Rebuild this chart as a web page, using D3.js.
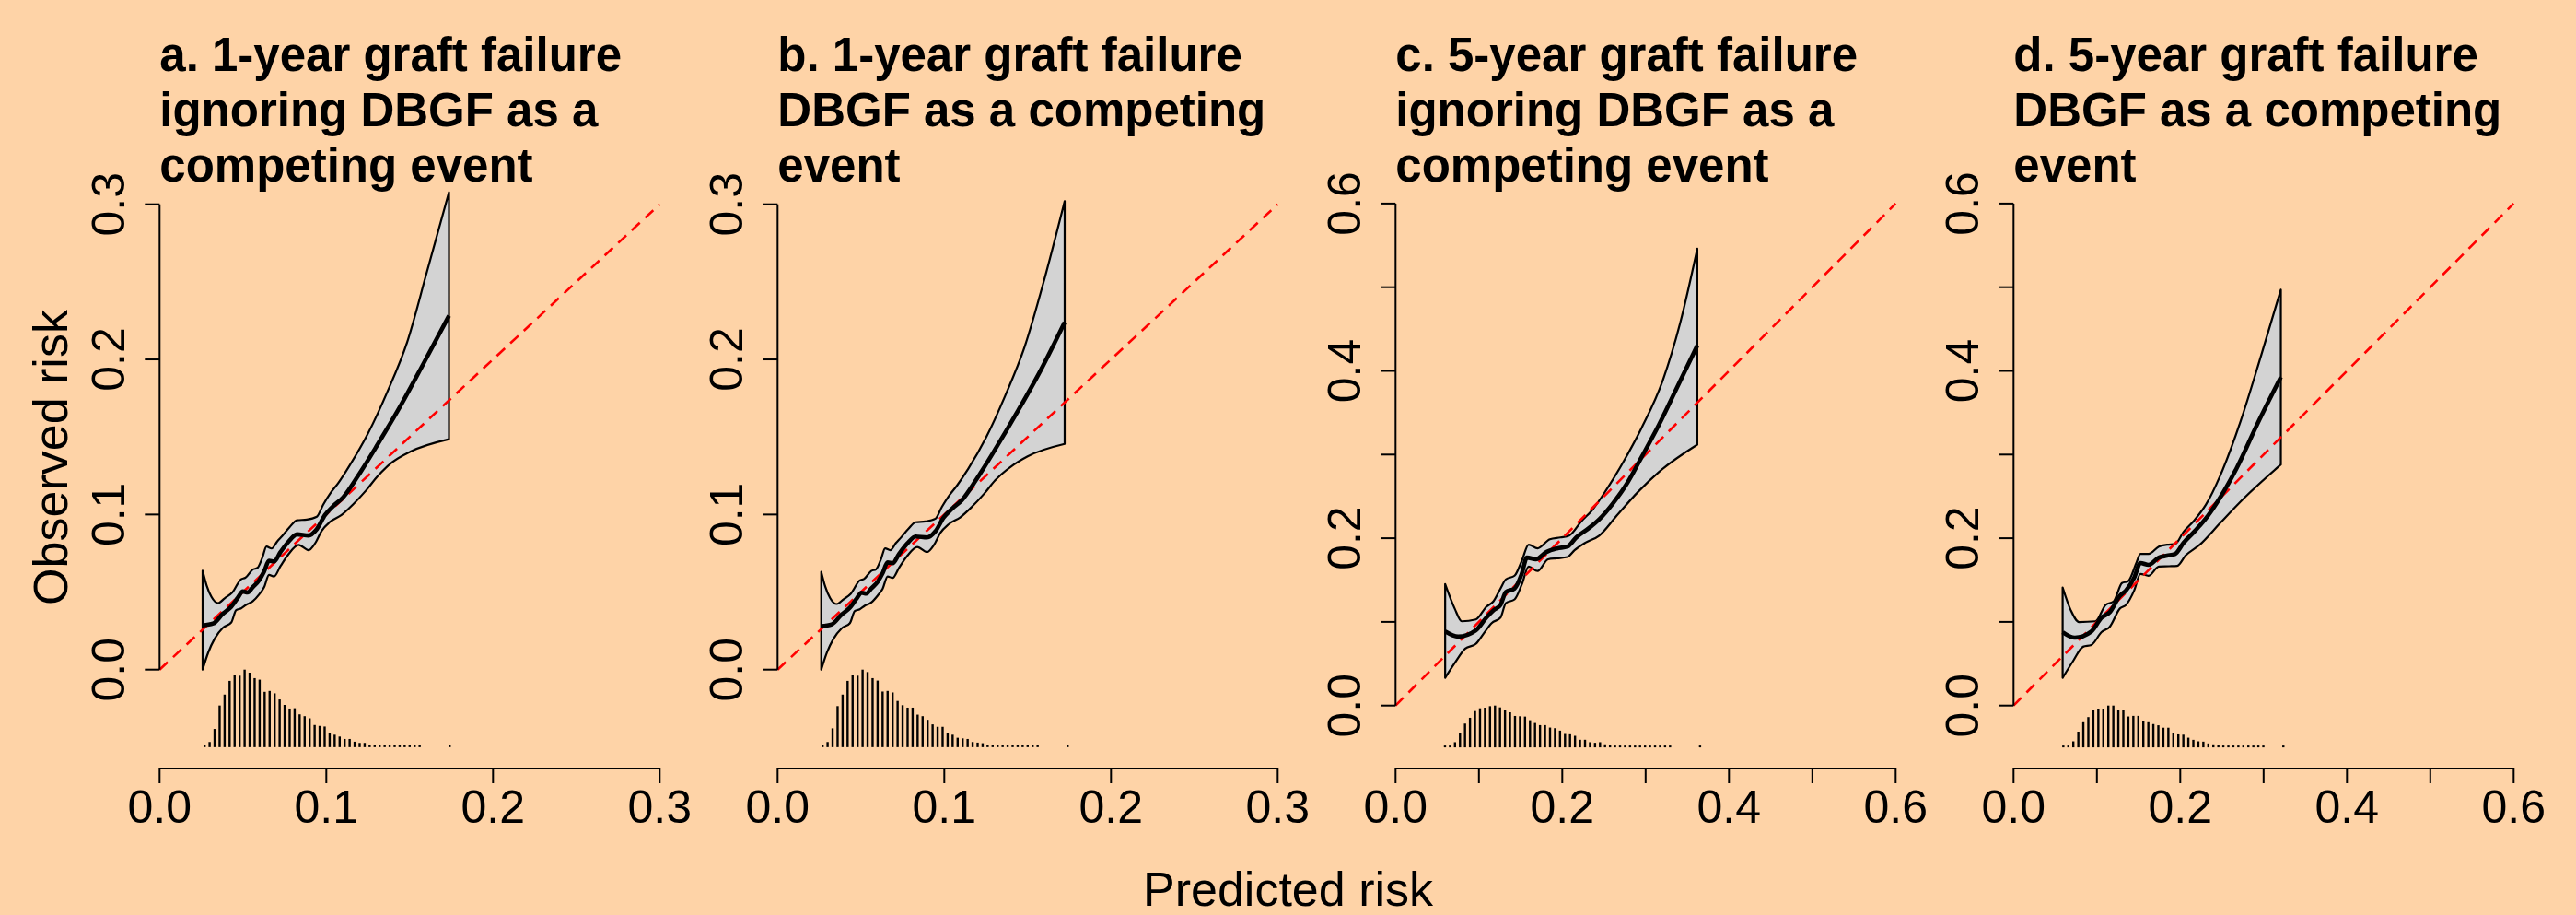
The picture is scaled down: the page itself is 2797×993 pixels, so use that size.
<!DOCTYPE html>
<html>
<head>
<meta charset="utf-8">
<script src="https://cdn.jsdelivr.net/npm/d3@7"></script>
<style>
  html, body { margin: 0; padding: 0; background: #FED3A7; }
  svg text { font-family: "Liberation Sans", Arial, Helvetica, sans-serif; fill: #000; }
</style>
</head>
<body>
<svg id="chart" width="2797" height="993"></svg>
<script>
// ---- titles ----
var titleA = ['a. 1-year graft failure', 'ignoring DBGF as a', 'competing event'];
var titleB = ['b. 1-year graft failure', 'DBGF as a competing', 'event'];
var titleC = ['c. 5-year graft failure', 'ignoring DBGF as a', 'competing event'];
var titleD = ['d. 5-year graft failure', 'DBGF as a competing', 'event'];

// ---- axis ticks ----
var ticks1y = [0, 0.1, 0.2, 0.3];
var labels1y = [0, 0.1, 0.2, 0.3];
var ticks5y = [0, 0.1, 0.2, 0.3, 0.4, 0.5, 0.6];
var labels5y = [0, 0.2, 0.4, 0.6];

// ---- panel a: 1-year, ignoring DBGF ----
var upperAx = [0.0258, 0.0282, 0.0311, 0.0351, 0.0390, 0.0436, 0.0489, 0.0514, 0.0558, 0.0587, 0.0617, 0.0641, 0.0672, 0.0706, 0.0735, 0.0779, 0.0824, 0.0883, 0.0943, 0.0982, 0.1022, 0.1071, 0.1140, 0.1249, 0.1367, 0.1485, 0.1604, 0.1736];
var upperAy = [0.0638, 0.0543, 0.0469, 0.0429, 0.0460, 0.0497, 0.0583, 0.0592, 0.0645, 0.0656, 0.0724, 0.0793, 0.0781, 0.0827, 0.0861, 0.0917, 0.0963, 0.0967, 0.0986, 0.1065, 0.1134, 0.1202, 0.1316, 0.1520, 0.1793, 0.2111, 0.2566, 0.3078];
var estAx = [0.0258, 0.0321, 0.0380, 0.0430, 0.0469, 0.0499, 0.0528, 0.0558, 0.0597, 0.0627, 0.0656, 0.0686, 0.0725, 0.0775, 0.0824, 0.0893, 0.0943, 0.0992, 0.1041, 0.1101, 0.1189, 0.1308, 0.1446, 0.1584, 0.1736];
var estAy = [0.0285, 0.0297, 0.0361, 0.0406, 0.0463, 0.0504, 0.0497, 0.0531, 0.0576, 0.0633, 0.0702, 0.0697, 0.0758, 0.0827, 0.0872, 0.0865, 0.0906, 0.0997, 0.1054, 0.1111, 0.1247, 0.1452, 0.1702, 0.1975, 0.2282];
var lowerAx = [0.0258, 0.0292, 0.0331, 0.0380, 0.0430, 0.0459, 0.0489, 0.0518, 0.0558, 0.0597, 0.0627, 0.0656, 0.0686, 0.0725, 0.0775, 0.0834, 0.0893, 0.0933, 0.0972, 0.1022, 0.1091, 0.1160, 0.1239, 0.1308, 0.1397, 0.1505, 0.1736];
var lowerAy = [0.0000, 0.0111, 0.0201, 0.0270, 0.0304, 0.0383, 0.0395, 0.0417, 0.0440, 0.0485, 0.0531, 0.0611, 0.0600, 0.0667, 0.0747, 0.0804, 0.0770, 0.0815, 0.0895, 0.0952, 0.0997, 0.1065, 0.1156, 0.1247, 0.1338, 0.1406, 0.1486];
var histA = [3, 17, 60, 137, 173, 218, 237, 235, 255, 245, 227, 222, 182, 185, 177, 157, 139, 127, 128, 108, 102, 95, 73, 70, 68, 47, 41, 35, 27, 27, 18, 14, 14, 7, 7, 7, 6, 6, 6, 5, 5, 5, 5, 5, 0, 0, 0, 0, 0, 5];

// ---- panel b: 1-year, DBGF competing ----
var upperBx = [0.0262, 0.0286, 0.0315, 0.0355, 0.0394, 0.0440, 0.0493, 0.0518, 0.0562, 0.0591, 0.0621, 0.0645, 0.0676, 0.0710, 0.0739, 0.0783, 0.0828, 0.0887, 0.0947, 0.0986, 0.1026, 0.1075, 0.1144, 0.1250, 0.1365, 0.1480, 0.1600, 0.1722];
var upperBy = [0.0630, 0.0535, 0.0462, 0.0423, 0.0452, 0.0490, 0.0575, 0.0584, 0.0636, 0.0647, 0.0714, 0.0782, 0.0770, 0.0816, 0.0850, 0.0905, 0.0950, 0.0955, 0.0973, 0.1050, 0.1118, 0.1185, 0.1295, 0.1495, 0.1765, 0.2075, 0.2515, 0.3020];
var estBx = [0.0262, 0.0325, 0.0384, 0.0434, 0.0473, 0.0503, 0.0532, 0.0562, 0.0601, 0.0631, 0.0660, 0.0690, 0.0729, 0.0779, 0.0828, 0.0897, 0.0947, 0.0996, 0.1045, 0.1105, 0.1190, 0.1305, 0.1440, 0.1578, 0.1722];
var estBy = [0.0280, 0.0292, 0.0355, 0.0400, 0.0456, 0.0496, 0.0490, 0.0523, 0.0567, 0.0623, 0.0691, 0.0686, 0.0746, 0.0814, 0.0858, 0.0852, 0.0892, 0.0980, 0.1036, 0.1092, 0.1222, 0.1420, 0.1665, 0.1930, 0.2240];
var lowerBx = [0.0262, 0.0296, 0.0335, 0.0384, 0.0434, 0.0463, 0.0493, 0.0522, 0.0562, 0.0601, 0.0631, 0.0660, 0.0690, 0.0729, 0.0779, 0.0838, 0.0897, 0.0937, 0.0976, 0.1026, 0.1095, 0.1164, 0.1240, 0.1305, 0.1395, 0.1500, 0.1722];
var lowerBy = [0.0000, 0.0110, 0.0198, 0.0266, 0.0300, 0.0377, 0.0389, 0.0411, 0.0433, 0.0478, 0.0523, 0.0601, 0.0591, 0.0657, 0.0735, 0.0791, 0.0758, 0.0802, 0.0881, 0.0937, 0.0981, 0.1048, 0.1135, 0.1220, 0.1305, 0.1375, 0.1455];
var histB = [2, 17, 62, 135, 173, 218, 237, 235, 255, 247, 227, 219, 183, 185, 180, 152, 138, 130, 130, 107, 102, 90, 75, 67, 67, 45, 41, 31, 29, 27, 17, 15, 13, 7, 7, 7, 6, 5, 5, 5, 5, 5, 5, 5, 0, 0, 0, 0, 0, 5];

// ---- panel c: 5-year, ignoring DBGF ----
var upperCx = [0.0595, 0.0709, 0.0794, 0.0963, 0.1089, 0.1175, 0.1259, 0.1323, 0.1428, 0.1513, 0.1597, 0.1703, 0.1851, 0.1978, 0.2083, 0.2231, 0.2358, 0.2527, 0.2739, 0.2950, 0.3204, 0.3416, 0.3620];
var upperCy = [0.1452, 0.1160, 0.1007, 0.1029, 0.1181, 0.1247, 0.1399, 0.1508, 0.1552, 0.1726, 0.1922, 0.1878, 0.1987, 0.2009, 0.2031, 0.2205, 0.2335, 0.2575, 0.2923, 0.3315, 0.3881, 0.4578, 0.5460];
var estCx = [0.0595, 0.0751, 0.0963, 0.1089, 0.1175, 0.1259, 0.1323, 0.1428, 0.1513, 0.1576, 0.1682, 0.1809, 0.1936, 0.2062, 0.2168, 0.2316, 0.2443, 0.2612, 0.2781, 0.2950, 0.3161, 0.3373, 0.3620];
var estCy = [0.0885, 0.0824, 0.0899, 0.1051, 0.1138, 0.1203, 0.1356, 0.1399, 0.1573, 0.1769, 0.1748, 0.1835, 0.1878, 0.1900, 0.2009, 0.2118, 0.2226, 0.2422, 0.2662, 0.2967, 0.3359, 0.3794, 0.4304];
var lowerCx = [0.0595, 0.0709, 0.0836, 0.0963, 0.1068, 0.1153, 0.1259, 0.1323, 0.1428, 0.1513, 0.1597, 0.1703, 0.1830, 0.1936, 0.2062, 0.2147, 0.2274, 0.2443, 0.2654, 0.2908, 0.3161, 0.3620];
var lowerCy = [0.0332, 0.0507, 0.0681, 0.0737, 0.0877, 0.0986, 0.1051, 0.1225, 0.1269, 0.1443, 0.1661, 0.1608, 0.1748, 0.1760, 0.1775, 0.1856, 0.1944, 0.2031, 0.2270, 0.2553, 0.2793, 0.3119];
var histC = [2, 5, 17, 48, 78, 97, 119, 128, 130, 135, 137, 131, 123, 115, 103, 102, 101, 89, 80, 73, 73, 65, 63, 55, 44, 43, 38, 25, 25, 17, 15, 17, 10, 9, 5, 5, 5, 4, 4, 4, 4, 4, 4, 4, 4, 4, 0, 0, 0, 0, 0, 4];

// ---- panel d: 5-year, DBGF competing ----
var upperDx = [0.0589, 0.0687, 0.0786, 0.0982, 0.1105, 0.1203, 0.1301, 0.1375, 0.1473, 0.1522, 0.1620, 0.1743, 0.1841, 0.1939, 0.2038, 0.2161, 0.2308, 0.2480, 0.2725, 0.2971, 0.3207];
var upperDy = [0.1412, 0.1138, 0.0998, 0.1007, 0.1203, 0.1247, 0.1465, 0.1486, 0.1704, 0.1813, 0.1813, 0.1900, 0.1922, 0.1930, 0.2074, 0.2205, 0.2401, 0.2749, 0.3402, 0.4186, 0.4970];
var estDx = [0.0589, 0.0736, 0.0933, 0.1055, 0.1154, 0.1276, 0.1350, 0.1448, 0.1522, 0.1620, 0.1743, 0.1841, 0.1939, 0.2038, 0.2185, 0.2333, 0.2480, 0.2676, 0.2922, 0.3207];
var estDy = [0.0877, 0.0811, 0.0885, 0.1051, 0.1116, 0.1312, 0.1377, 0.1530, 0.1704, 0.1682, 0.1769, 0.1791, 0.1813, 0.1943, 0.2096, 0.2270, 0.2488, 0.2836, 0.3359, 0.3925];
var lowerDx = [0.0589, 0.0712, 0.0834, 0.0933, 0.1055, 0.1154, 0.1276, 0.1350, 0.1448, 0.1522, 0.1620, 0.1743, 0.1866, 0.1964, 0.2062, 0.2234, 0.2480, 0.2775, 0.3207];
var lowerDy = [0.0332, 0.0528, 0.0703, 0.0724, 0.0877, 0.0942, 0.1160, 0.1203, 0.1377, 0.1573, 0.1552, 0.1661, 0.1665, 0.1670, 0.1791, 0.1922, 0.2183, 0.2488, 0.2880];
var histD = [2, 5, 20, 52, 83, 100, 123, 128, 128, 138, 138, 123, 125, 102, 104, 104, 88, 83, 77, 73, 65, 65, 48, 43, 42, 32, 25, 20, 19, 13, 10, 9, 5, 4, 4, 4, 4, 4, 4, 4, 4, 0, 0, 0, 4];

// histogram bins (first bin centre, bin width)
var histStart = [0.027, 0.027, 0.0593, 0.0597];
var histWidth = [0.003, 0.003, 0.006, 0.006];

var W = 2797, H = 993;
var svg = d3.select('#chart');
svg.append('rect').attr('width', W).attr('height', H).attr('fill', '#FED3A7');

var zip = function (xs, ys) { return xs.map(function (x, i) { return [x, ys[i]]; }); };

var panels = [
  { title: titleA, max: 0.3, ticks: ticks1y, labels: labels1y, y0: 726.7, yTop: 221.7,
    upper: zip(upperAx, upperAy), est: zip(estAx, estAy), lower: zip(lowerAx, lowerAy), hist: histA },
  { title: titleB, max: 0.3, ticks: ticks1y, labels: labels1y, y0: 726.7, yTop: 221.7,
    upper: zip(upperBx, upperBy), est: zip(estBx, estBy), lower: zip(lowerBx, lowerBy), hist: histB },
  { title: titleC, max: 0.6, ticks: ticks5y, labels: labels5y, y0: 765.7, yTop: 220.9,
    upper: zip(upperCx, upperCy), est: zip(estCx, estCy), lower: zip(lowerCx, lowerCy), hist: histC },
  { title: titleD, max: 0.6, ticks: ticks5y, labels: labels5y, y0: 765.7, yTop: 220.9,
    upper: zip(upperDx, upperDy), est: zip(estDx, estDy), lower: zip(lowerDx, lowerDy), hist: histD }
];

var left0 = 173.3, step = 671, plotW = 543, xAxisY = 834, tick = 16;
var fmt = d3.format('.1f');

panels.forEach(function (p, k) {
  var left = left0 + k * step;
  var x = d3.scaleLinear().domain([0, p.max]).range([left, left + plotW]);
  var y = d3.scaleLinear().domain([0, p.max]).range([p.y0, p.yTop]);
  var g = svg.append('g');

  // histogram of predicted risks, drawn between y = -0.05 and 0
  var hmax = d3.max(p.hist);
  p.hist.forEach(function (c, i) {
    if (!c) return;
    var xc = x(histStart[k] + i * histWidth[k]);
    var yb = y(-0.05), yt = y(-0.05 + 0.05 * c / hmax);
    if (yb - yt < 2) yt = yb - 2;
    g.append('line')
      .attr('x1', xc).attr('x2', xc).attr('y1', yb).attr('y2', yt)
      .attr('stroke', '#000').attr('stroke-width', 2.4);
  });

  // confidence band
  var line = d3.line().x(function (d) { return x(d[0]); }).y(function (d) { return y(d[1]); })
    .curve(d3.curveMonotoneX);
  var upPath = line(p.upper);
  var loRev = p.lower.slice().reverse();
  var loPath = d3.line().x(function (d) { return x(d[0]); }).y(function (d) { return y(d[1]); })
    .curve(d3.curveMonotoneX)(loRev);
  g.append('path')
    .attr('d', upPath + 'L' + loPath.slice(1) + 'Z')
    .attr('fill', '#D3D3D3').attr('stroke', '#000').attr('stroke-width', 2.2)
    .attr('stroke-linejoin', 'round');

  // ideal line
  g.append('line')
    .attr('x1', x(0)).attr('y1', y(0)).attr('x2', x(p.max)).attr('y2', y(p.max))
    .attr('stroke', '#FF0000').attr('stroke-width', 2.6).attr('stroke-dasharray', '12,8');

  // estimated calibration curve
  g.append('path').attr('d', line(p.est))
    .attr('fill', 'none').attr('stroke', '#000').attr('stroke-width', 4.6)
    .attr('stroke-linejoin', 'round');

  // y axis
  g.append('line').attr('x1', left).attr('x2', left).attr('y1', y(0)).attr('y2', y(p.max))
    .attr('stroke', '#000').attr('stroke-width', 2);
  p.ticks.forEach(function (t) {
    g.append('line').attr('x1', left - tick).attr('x2', left).attr('y1', y(t)).attr('y2', y(t))
      .attr('stroke', '#000').attr('stroke-width', 2);
  });
  p.labels.forEach(function (t) {
    g.append('text')
      .attr('transform', 'translate(' + (left - 38) + ',' + y(t) + ') rotate(-90)')
      .attr('text-anchor', 'middle').attr('font-size', 50).text(fmt(t));
  });

  // x axis
  g.append('line').attr('x1', x(0)).attr('x2', x(p.max)).attr('y1', xAxisY).attr('y2', xAxisY)
    .attr('stroke', '#000').attr('stroke-width', 2);
  p.ticks.forEach(function (t) {
    g.append('line').attr('x1', x(t)).attr('x2', x(t)).attr('y1', xAxisY).attr('y2', xAxisY + tick)
      .attr('stroke', '#000').attr('stroke-width', 2);
  });
  p.labels.forEach(function (t) {
    g.append('text').attr('x', x(t)).attr('y', 893)
      .attr('text-anchor', 'middle').attr('font-size', 50).text(fmt(t));
  });

  // title
  var tt = g.append('text').attr('font-size', 51).attr('font-weight', 'bold');
  p.title.forEach(function (s, i) {
    tt.append('tspan').attr('x', left).attr('y', 77 + i * 60).text(s);
  });
});

// outer axis titles
svg.append('text')
  .attr('transform', 'translate(73,' + (H / 2) + ') rotate(-90)')
  .attr('text-anchor', 'middle').attr('font-size', 52).text('Observed risk');
svg.append('text').attr('x', W / 2).attr('y', 983)
  .attr('text-anchor', 'middle').attr('font-size', 52).text('Predicted risk');
</script>
</body>
</html>
